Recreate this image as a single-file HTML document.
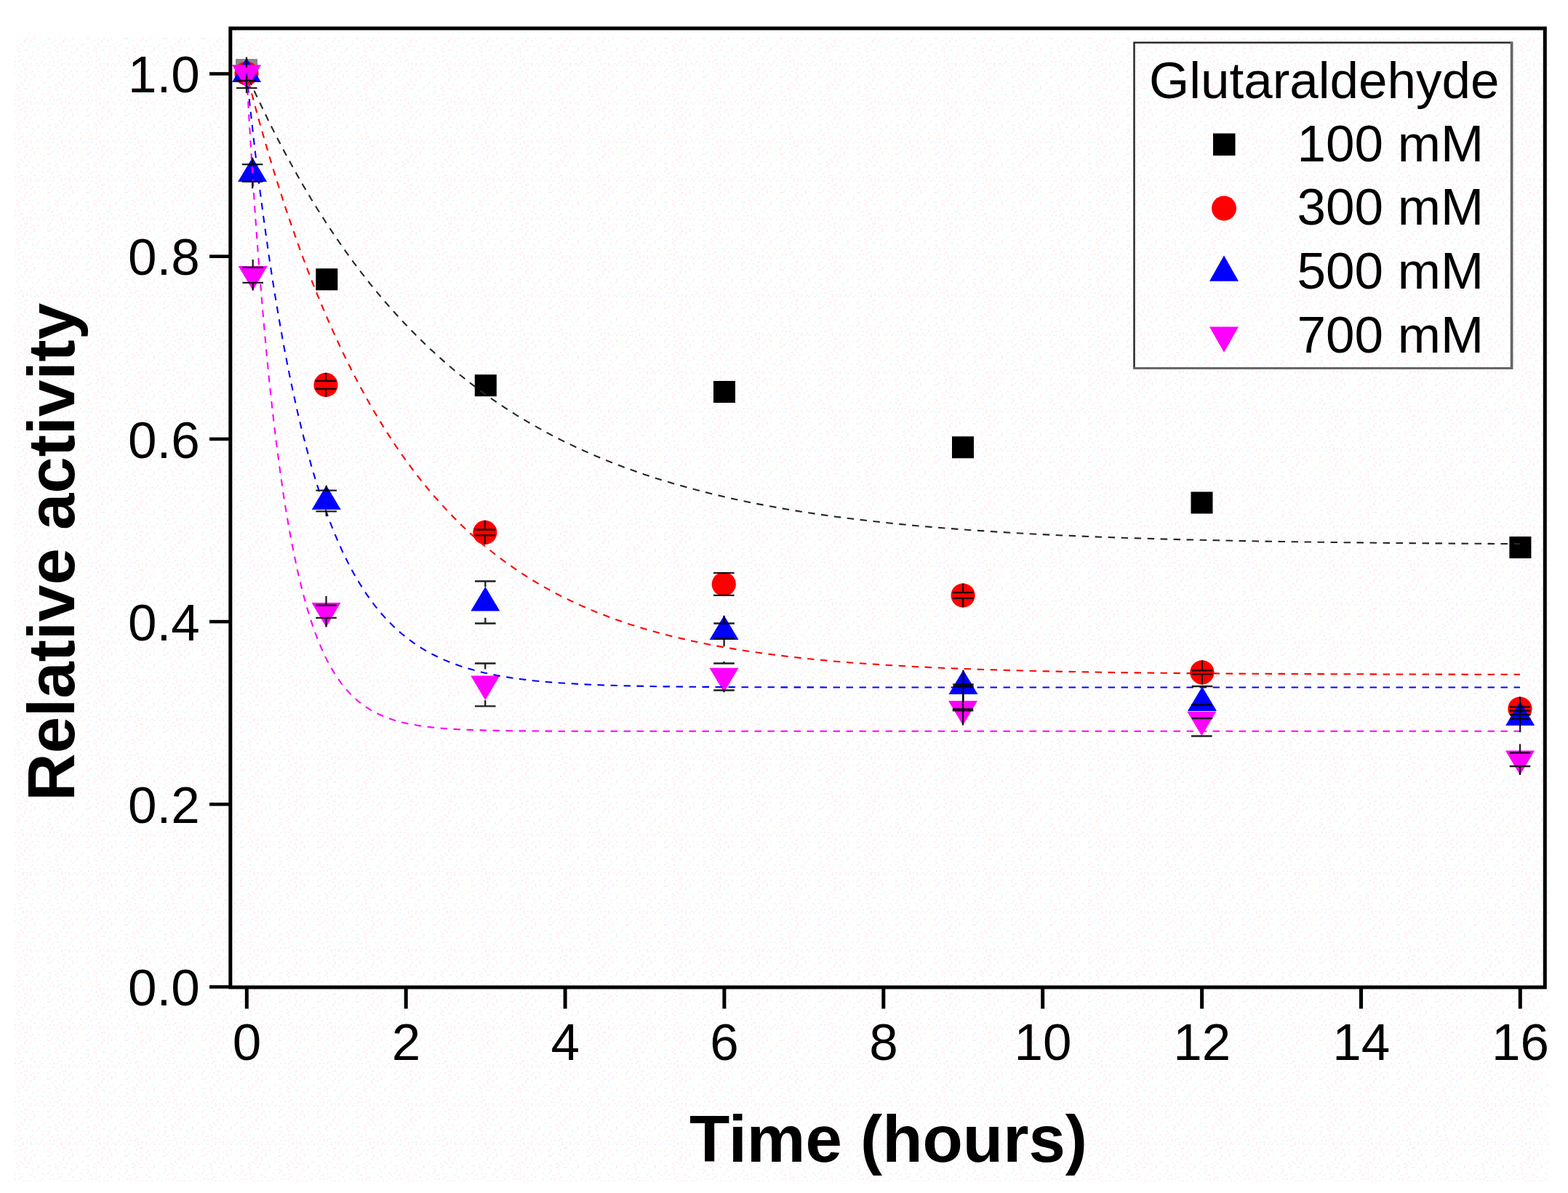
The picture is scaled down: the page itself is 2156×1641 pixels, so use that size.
<!DOCTYPE html><html><head><meta charset="utf-8"><title>Relative activity vs time</title>
<style>html,body{margin:0;padding:0;background:#fff;}svg{display:block;}text{font-family:"Liberation Sans",Arial,sans-serif;}</style></head><body>
<svg width="2156" height="1641" viewBox="0 0 2156 1641">
<rect x="0" y="0" width="2156" height="1641" fill="#fff"/>
<defs><pattern id="nz" x="20" y="52" width="53.00" height="53.00" patternUnits="userSpaceOnUse"><rect x="2.65" y="2.65" width="2.1" height="2.1" fill="#ebfcff"/><rect x="0.00" y="5.30" width="2.1" height="2.1" fill="#f5ffee"/><rect x="2.65" y="10.60" width="2.1" height="2.1" fill="#ffebf2"/><rect x="2.65" y="15.90" width="2.1" height="2.1" fill="#ffebf2"/><rect x="0.00" y="23.85" width="2.1" height="2.1" fill="#f5ffee"/><rect x="0.00" y="26.50" width="2.1" height="2.1" fill="#f5ffee"/><rect x="0.00" y="31.80" width="2.1" height="2.1" fill="#ffebf2"/><rect x="0.00" y="37.10" width="2.1" height="2.1" fill="#ebfcff"/><rect x="2.65" y="45.05" width="2.1" height="2.1" fill="#ebfcff"/><rect x="0.00" y="47.70" width="2.1" height="2.1" fill="#ebfcff"/><rect x="7.95" y="0.00" width="2.1" height="2.1" fill="#ebfcff"/><rect x="7.95" y="7.95" width="2.1" height="2.1" fill="#ffebf2"/><rect x="5.30" y="13.25" width="2.1" height="2.1" fill="#ffebf2"/><rect x="5.30" y="18.55" width="2.1" height="2.1" fill="#ffebf2"/><rect x="5.30" y="23.85" width="2.1" height="2.1" fill="#ffebf2"/><rect x="7.95" y="29.15" width="2.1" height="2.1" fill="#ffebf2"/><rect x="5.30" y="31.80" width="2.1" height="2.1" fill="#ffebf2"/><rect x="5.30" y="39.75" width="2.1" height="2.1" fill="#ffebf2"/><rect x="7.95" y="45.05" width="2.1" height="2.1" fill="#ffebf2"/><rect x="5.30" y="50.35" width="2.1" height="2.1" fill="#ffebf2"/><rect x="13.25" y="2.65" width="2.1" height="2.1" fill="#ffebf2"/><rect x="13.25" y="5.30" width="2.1" height="2.1" fill="#ffebf2"/><rect x="10.60" y="10.60" width="2.1" height="2.1" fill="#ffebf2"/><rect x="13.25" y="15.90" width="2.1" height="2.1" fill="#ebfcff"/><rect x="10.60" y="23.85" width="2.1" height="2.1" fill="#ebfcff"/><rect x="10.60" y="29.15" width="2.1" height="2.1" fill="#ebfcff"/><rect x="10.60" y="34.45" width="2.1" height="2.1" fill="#ffebf2"/><rect x="10.60" y="37.10" width="2.1" height="2.1" fill="#ffebf2"/><rect x="13.25" y="42.40" width="2.1" height="2.1" fill="#ffebf2"/><rect x="13.25" y="47.70" width="2.1" height="2.1" fill="#ffebf2"/><rect x="15.90" y="0.00" width="2.1" height="2.1" fill="#ffebf2"/><rect x="15.90" y="7.95" width="2.1" height="2.1" fill="#f5ffee"/><rect x="18.55" y="10.60" width="2.1" height="2.1" fill="#ffebf2"/><rect x="15.90" y="15.90" width="2.1" height="2.1" fill="#ffebf2"/><rect x="18.55" y="23.85" width="2.1" height="2.1" fill="#ebfcff"/><rect x="15.90" y="29.15" width="2.1" height="2.1" fill="#f5ffee"/><rect x="15.90" y="34.45" width="2.1" height="2.1" fill="#ffebf2"/><rect x="15.90" y="39.75" width="2.1" height="2.1" fill="#f5ffee"/><rect x="15.90" y="42.40" width="2.1" height="2.1" fill="#ffebf2"/><rect x="15.90" y="50.35" width="2.1" height="2.1" fill="#f5ffee"/><rect x="21.20" y="2.65" width="2.1" height="2.1" fill="#ffebf2"/><rect x="21.20" y="5.30" width="2.1" height="2.1" fill="#ebfcff"/><rect x="23.85" y="10.60" width="2.1" height="2.1" fill="#ebfcff"/><rect x="23.85" y="18.55" width="2.1" height="2.1" fill="#ffebf2"/><rect x="23.85" y="23.85" width="2.1" height="2.1" fill="#ebfcff"/><rect x="21.20" y="26.50" width="2.1" height="2.1" fill="#ffebf2"/><rect x="21.20" y="34.45" width="2.1" height="2.1" fill="#ffebf2"/><rect x="21.20" y="37.10" width="2.1" height="2.1" fill="#ffebf2"/><rect x="23.85" y="45.05" width="2.1" height="2.1" fill="#ffebf2"/><rect x="21.20" y="47.70" width="2.1" height="2.1" fill="#ffebf2"/><rect x="26.50" y="0.00" width="2.1" height="2.1" fill="#ffebf2"/><rect x="29.15" y="7.95" width="2.1" height="2.1" fill="#ebfcff"/><rect x="26.50" y="10.60" width="2.1" height="2.1" fill="#f5ffee"/><rect x="29.15" y="18.55" width="2.1" height="2.1" fill="#ebfcff"/><rect x="26.50" y="21.20" width="2.1" height="2.1" fill="#ebfcff"/><rect x="26.50" y="29.15" width="2.1" height="2.1" fill="#ffebf2"/><rect x="29.15" y="34.45" width="2.1" height="2.1" fill="#ffebf2"/><rect x="26.50" y="37.10" width="2.1" height="2.1" fill="#ebfcff"/><rect x="29.15" y="42.40" width="2.1" height="2.1" fill="#f5ffee"/><rect x="26.50" y="50.35" width="2.1" height="2.1" fill="#ffebf2"/><rect x="34.45" y="0.00" width="2.1" height="2.1" fill="#f5ffee"/><rect x="34.45" y="5.30" width="2.1" height="2.1" fill="#f5ffee"/><rect x="31.80" y="13.25" width="2.1" height="2.1" fill="#ffebf2"/><rect x="31.80" y="15.90" width="2.1" height="2.1" fill="#ffebf2"/><rect x="31.80" y="23.85" width="2.1" height="2.1" fill="#f5ffee"/><rect x="34.45" y="29.15" width="2.1" height="2.1" fill="#f5ffee"/><rect x="34.45" y="34.45" width="2.1" height="2.1" fill="#ebfcff"/><rect x="31.80" y="37.10" width="2.1" height="2.1" fill="#ffebf2"/><rect x="31.80" y="45.05" width="2.1" height="2.1" fill="#ffebf2"/><rect x="31.80" y="50.35" width="2.1" height="2.1" fill="#ebfcff"/><rect x="39.75" y="2.65" width="2.1" height="2.1" fill="#f5ffee"/><rect x="39.75" y="7.95" width="2.1" height="2.1" fill="#ffebf2"/><rect x="37.10" y="10.60" width="2.1" height="2.1" fill="#ebfcff"/><rect x="39.75" y="18.55" width="2.1" height="2.1" fill="#ebfcff"/><rect x="37.10" y="23.85" width="2.1" height="2.1" fill="#ffebf2"/><rect x="39.75" y="26.50" width="2.1" height="2.1" fill="#ebfcff"/><rect x="37.10" y="31.80" width="2.1" height="2.1" fill="#ffebf2"/><rect x="39.75" y="37.10" width="2.1" height="2.1" fill="#ffebf2"/><rect x="39.75" y="45.05" width="2.1" height="2.1" fill="#f5ffee"/><rect x="37.10" y="47.70" width="2.1" height="2.1" fill="#f5ffee"/><rect x="45.05" y="0.00" width="2.1" height="2.1" fill="#ffebf2"/><rect x="45.05" y="7.95" width="2.1" height="2.1" fill="#f5ffee"/><rect x="45.05" y="13.25" width="2.1" height="2.1" fill="#ebfcff"/><rect x="45.05" y="18.55" width="2.1" height="2.1" fill="#ebfcff"/><rect x="45.05" y="23.85" width="2.1" height="2.1" fill="#ffebf2"/><rect x="42.40" y="29.15" width="2.1" height="2.1" fill="#f5ffee"/><rect x="42.40" y="34.45" width="2.1" height="2.1" fill="#ebfcff"/><rect x="45.05" y="37.10" width="2.1" height="2.1" fill="#ebfcff"/><rect x="45.05" y="45.05" width="2.1" height="2.1" fill="#ffebf2"/><rect x="45.05" y="47.70" width="2.1" height="2.1" fill="#ebfcff"/><rect x="47.70" y="0.00" width="2.1" height="2.1" fill="#ffebf2"/><rect x="50.35" y="5.30" width="2.1" height="2.1" fill="#ebfcff"/><rect x="47.70" y="13.25" width="2.1" height="2.1" fill="#ffebf2"/><rect x="47.70" y="18.55" width="2.1" height="2.1" fill="#ebfcff"/><rect x="47.70" y="21.20" width="2.1" height="2.1" fill="#ffebf2"/><rect x="50.35" y="26.50" width="2.1" height="2.1" fill="#ffebf2"/><rect x="47.70" y="31.80" width="2.1" height="2.1" fill="#ffebf2"/><rect x="50.35" y="37.10" width="2.1" height="2.1" fill="#ebfcff"/><rect x="47.70" y="42.40" width="2.1" height="2.1" fill="#ffebf2"/><rect x="50.35" y="50.35" width="2.1" height="2.1" fill="#ffebf2"/></pattern></defs>
<rect x="20" y="52" width="2111" height="1573" fill="url(#nz)"/>
<g id="markers">
<rect x="324.0" y="81.0" width="30" height="30" fill="#8a8a8a"/>
<rect x="434.3" y="369.3" width="30" height="30" fill="#000"/>
<rect x="652.8" y="515.2" width="30" height="30" fill="#000"/>
<rect x="981.0" y="524.0" width="30" height="30" fill="#000"/>
<rect x="1309.0" y="600.3" width="30" height="30" fill="#000"/>
<rect x="1637.5" y="676.5" width="30" height="30" fill="#000"/>
<rect x="2075.4" y="738.0" width="30" height="30" fill="#000"/>
<circle cx="339" cy="101" r="16.6" fill="#ff0000"/>
<circle cx="448" cy="529.4" r="16.6" fill="#ff0000"/>
<circle cx="666.8" cy="732.4" r="16.6" fill="#ff0000"/>
<circle cx="995.3" cy="803.5" r="16.6" fill="#ff0000"/>
<circle cx="1324.1" cy="819" r="16.6" fill="#ff0000"/>
<circle cx="1652.9" cy="924.8" r="16.6" fill="#ff0000"/>
<circle cx="2089.9" cy="975" r="16.6" fill="#ff0000"/>
<polygon points="319.0,113.0 359.0,113.0 339.0,79.5" fill="#0000ff"/>
<polygon points="327.1,250.0 367.1,250.0 347.1,216.5" fill="#0000ff"/>
<polygon points="428.7,701.0 468.7,701.0 448.7,667.5" fill="#0000ff"/>
<polygon points="647.3,840.5 687.3,840.5 667.3,807.0" fill="#0000ff"/>
<polygon points="975.6,880.0 1015.6,880.0 995.6,846.5" fill="#0000ff"/>
<polygon points="1304.5,955.0 1344.5,955.0 1324.5,921.5" fill="#0000ff"/>
<polygon points="1633.0,978.0 1673.0,978.0 1653.0,944.5" fill="#0000ff"/>
<polygon points="2070.2,998.0 2110.2,998.0 2090.2,964.5" fill="#0000ff"/>
<polygon points="319.0,89.2 359.0,89.2 339.0,122.7" fill="#ff00ff"/>
<polygon points="327.7,366.0 367.7,366.0 347.7,399.5" fill="#ff00ff"/>
<polygon points="428.5,828.9 468.5,828.9 448.5,862.4" fill="#ff00ff"/>
<polygon points="647.2,929.6 687.2,929.6 667.2,963.1" fill="#ff00ff"/>
<polygon points="975.5,918.7 1015.5,918.7 995.5,952.2" fill="#ff00ff"/>
<polygon points="1304.0,964.0 1344.0,964.0 1324.0,997.5" fill="#ff00ff"/>
<polygon points="1632.3,978.7 1672.3,978.7 1652.3,1012.2" fill="#ff00ff"/>
<polygon points="2070.0,1032.5 2110.0,1032.5 2090.0,1066.0" fill="#ff00ff"/>
</g>
<g fill="none" stroke-width="2.1" stroke-dasharray="9.5 8.5">
<polyline stroke="#262626" stroke-dashoffset="10.33" points="339.0,101.5 340.1,104.0 341.2,106.4 342.3,108.8 343.4,111.3 344.5,113.7 345.6,116.1 346.7,118.5 347.8,120.9 348.8,123.3 349.9,125.7 351.0,128.0 352.1,130.4 353.2,132.7 354.3,135.1 355.4,137.4 356.5,139.7 357.6,142.0 358.7,144.3 359.8,146.6 360.9,148.9 362.0,151.2 363.1,153.5 364.2,155.7 365.3,158.0 366.4,160.2 367.5,162.5 368.5,164.7 369.6,166.9 370.7,169.1 371.8,171.3 372.9,173.5 374.0,175.7 375.1,177.9 376.2,180.1 377.3,182.2 378.4,184.4 379.5,186.5 380.6,188.6 381.7,190.8 382.8,192.9 383.9,195.0 385.0,197.1 386.1,199.2 387.2,201.3 388.2,203.4 389.3,205.4 390.4,207.5 391.5,209.6 392.6,211.6 393.7,213.6 394.8,215.7 395.9,217.7 397.0,219.7 398.1,221.7 399.2,223.7 400.3,225.7 401.4,227.7 402.5,229.7 403.6,231.7 404.7,233.6 405.8,235.6 406.9,237.5 407.9,239.5 409.0,241.4 410.1,243.3 411.2,245.3 412.3,247.2 413.4,249.1 414.5,251.0 415.6,252.9 416.7,254.8 417.8,256.6 418.9,258.5 420.0,260.4 421.1,262.2 422.2,264.1 423.3,265.9 424.4,267.7 425.5,269.6 426.6,271.4 427.6,273.2 428.7,275.0 429.8,276.8 430.9,278.6 432.0,280.4 433.1,282.2 434.2,283.9 435.3,285.7 436.4,287.5 437.5,289.2 438.6,291.0 439.7,292.7 440.8,294.4 441.9,296.2 443.0,297.9 444.1,299.6 445.2,301.3 446.3,303.0 447.3,304.7 448.4,306.4 453.9,314.7 459.4,322.9 464.9,330.9 470.3,338.8 475.8,346.6 481.3,354.1 486.7,361.6 492.2,368.9 497.7,376.1 503.2,383.1 508.6,390.0 514.1,396.7 519.6,403.4 525.0,409.9 530.5,416.3 536.0,422.6 541.5,428.7 546.9,434.8 552.4,440.7 557.9,446.5 563.4,452.2 568.8,457.8 574.3,463.3 579.8,468.7 585.2,474.0 590.7,479.2 596.2,484.2 601.7,489.2 607.1,494.1 612.6,499.0 618.1,503.7 623.5,508.3 629.0,512.8 634.5,517.3 640.0,521.7 645.4,526.0 650.9,530.2 656.4,534.3 661.8,538.3 667.3,542.3 672.8,546.2 678.3,550.1 683.7,553.8 689.2,557.5 694.7,561.1 700.2,564.7 705.6,568.1 711.1,571.6 716.6,574.9 722.0,578.2 727.5,581.4 733.0,584.6 738.5,587.7 743.9,590.7 749.4,593.7 754.9,596.7 760.3,599.5 765.8,602.4 771.3,605.1 776.8,607.8 798.6,618.2 820.5,627.8 842.4,636.7 864.3,645.0 886.2,652.7 908.1,659.8 930.0,666.3 951.9,672.4 973.8,678.1 995.6,683.3 1017.5,688.2 1039.4,692.7 1061.3,696.8 1083.2,700.7 1105.1,704.3 1127.0,707.6 1148.9,710.7 1170.7,713.5 1192.6,716.1 1214.5,718.6 1236.4,720.9 1258.3,723.0 1280.2,724.9 1302.1,726.7 1324.0,728.4 1345.8,729.9 1367.7,731.4 1389.6,732.7 1411.5,734.0 1433.4,735.1 1455.3,736.2 1477.2,737.1 1499.1,738.1 1521.0,738.9 1542.8,739.7 1564.7,740.4 1586.6,741.1 1608.5,741.7 1630.4,742.3 1652.3,742.8 1674.2,743.3 1696.1,743.8 1717.9,744.2 1739.8,744.6 1761.7,745.0 1783.6,745.3 1805.5,745.6 1827.4,745.9 1849.3,746.2 1871.2,746.4 1893.0,746.7 1914.9,746.9 1936.8,747.1 1958.7,747.3 1980.6,747.4 2002.5,747.6 2024.4,747.7 2046.3,747.9 2068.2,748.0 2090.0,748.1"/>
<polyline stroke="#ff0000" stroke-dashoffset="8.02" points="339.0,101.5 340.1,105.7 341.2,110.0 342.3,114.2 343.4,118.4 344.5,122.5 345.6,126.6 346.7,130.8 347.8,134.9 348.8,138.9 349.9,143.0 351.0,147.0 352.1,151.0 353.2,155.0 354.3,159.0 355.4,162.9 356.5,166.9 357.6,170.8 358.7,174.7 359.8,178.5 360.9,182.4 362.0,186.2 363.1,190.0 364.2,193.8 365.3,197.6 366.4,201.3 367.5,205.1 368.5,208.8 369.6,212.5 370.7,216.2 371.8,219.8 372.9,223.4 374.0,227.1 375.1,230.7 376.2,234.2 377.3,237.8 378.4,241.4 379.5,244.9 380.6,248.4 381.7,251.9 382.8,255.4 383.9,258.8 385.0,262.2 386.1,265.7 387.2,269.1 388.2,272.5 389.3,275.8 390.4,279.2 391.5,282.5 392.6,285.8 393.7,289.1 394.8,292.4 395.9,295.7 397.0,298.9 398.1,302.1 399.2,305.4 400.3,308.6 401.4,311.7 402.5,314.9 403.6,318.1 404.7,321.2 405.8,324.3 406.9,327.4 407.9,330.5 409.0,333.6 410.1,336.6 411.2,339.6 412.3,342.7 413.4,345.7 414.5,348.7 415.6,351.6 416.7,354.6 417.8,357.5 418.9,360.5 420.0,363.4 421.1,366.3 422.2,369.2 423.3,372.0 424.4,374.9 425.5,377.7 426.6,380.6 427.6,383.4 428.7,386.2 429.8,389.0 430.9,391.7 432.0,394.5 433.1,397.2 434.2,400.0 435.3,402.7 436.4,405.4 437.5,408.0 438.6,410.7 439.7,413.4 440.8,416.0 441.9,418.6 443.0,421.3 444.1,423.9 445.2,426.5 446.3,429.0 447.3,431.6 448.4,434.1 453.9,446.7 459.4,458.9 464.9,470.9 470.3,482.5 475.8,493.8 481.3,504.8 486.7,515.6 492.2,526.1 497.7,536.3 503.2,546.2 508.6,556.0 514.1,565.4 519.6,574.6 525.0,583.6 530.5,592.4 536.0,600.9 541.5,609.2 546.9,617.3 552.4,625.2 557.9,632.9 563.4,640.4 568.8,647.7 574.3,654.8 579.8,661.8 585.2,668.5 590.7,675.1 596.2,681.6 601.7,687.8 607.1,693.9 612.6,699.9 618.1,705.7 623.5,711.3 629.0,716.8 634.5,722.2 640.0,727.4 645.4,732.5 650.9,737.5 656.4,742.3 661.8,747.1 667.3,751.7 672.8,756.1 678.3,760.5 683.7,764.8 689.2,768.9 694.7,773.0 700.2,776.9 705.6,780.7 711.1,784.5 716.6,788.1 722.0,791.7 727.5,795.1 733.0,798.5 738.5,801.8 743.9,805.0 749.4,808.1 754.9,811.2 760.3,814.2 765.8,817.0 771.3,819.9 776.8,822.6 798.6,832.9 820.5,842.2 842.4,850.6 864.3,858.2 886.2,865.0 908.1,871.2 930.0,876.7 951.9,881.7 973.8,886.3 995.6,890.3 1017.5,894.0 1039.4,897.3 1061.3,900.3 1083.2,903.0 1105.1,905.5 1127.0,907.7 1148.9,909.7 1170.7,911.5 1192.6,913.1 1214.5,914.5 1236.4,915.8 1258.3,917.0 1280.2,918.1 1302.1,919.1 1324.0,919.9 1345.8,920.7 1367.7,921.4 1389.6,922.1 1411.5,922.6 1433.4,923.2 1455.3,923.6 1477.2,924.0 1499.1,924.4 1521.0,924.8 1542.8,925.1 1564.7,925.4 1586.6,925.6 1608.5,925.8 1630.4,926.1 1652.3,926.2 1674.2,926.4 1696.1,926.6 1717.9,926.7 1739.8,926.8 1761.7,926.9 1783.6,927.0 1805.5,927.1 1827.4,927.2 1849.3,927.3 1871.2,927.3 1893.0,927.4 1914.9,927.5 1936.8,927.5 1958.7,927.5 1980.6,927.6 2002.5,927.6 2024.4,927.7 2046.3,927.7 2068.2,927.7 2090.0,927.7"/>
<polyline stroke="#0000ff" stroke-dashoffset="1.23" points="339.0,101.5 340.1,112.0 341.2,122.3 342.3,132.6 343.4,142.7 344.5,152.6 345.6,162.5 346.7,172.2 347.8,181.8 348.8,191.3 349.9,200.7 351.0,209.9 352.1,219.1 353.2,228.1 354.3,237.0 355.4,245.8 356.5,254.5 357.6,263.1 358.7,271.6 359.8,279.9 360.9,288.2 362.0,296.4 363.1,304.4 364.2,312.4 365.3,320.3 366.4,328.0 367.5,335.7 368.5,343.3 369.6,350.8 370.7,358.1 371.8,365.4 372.9,372.6 374.0,379.8 375.1,386.8 376.2,393.7 377.3,400.6 378.4,407.4 379.5,414.0 380.6,420.6 381.7,427.2 382.8,433.6 383.9,440.0 385.0,446.2 386.1,452.4 387.2,458.6 388.2,464.6 389.3,470.6 390.4,476.5 391.5,482.3 392.6,488.1 393.7,493.8 394.8,499.4 395.9,504.9 397.0,510.4 398.1,515.8 399.2,521.1 400.3,526.4 401.4,531.6 402.5,536.7 403.6,541.8 404.7,546.8 405.8,551.8 406.9,556.7 407.9,561.5 409.0,566.3 410.1,571.0 411.2,575.6 412.3,580.2 413.4,584.8 414.5,589.3 415.6,593.7 416.7,598.1 417.8,602.4 418.9,606.6 420.0,610.8 421.1,615.0 422.2,619.1 423.3,623.2 424.4,627.2 425.5,631.1 426.6,635.0 427.6,638.9 428.7,642.7 429.8,646.5 430.9,650.2 432.0,653.8 433.1,657.5 434.2,661.0 435.3,664.6 436.4,668.1 437.5,671.5 438.6,674.9 439.7,678.3 440.8,681.6 441.9,684.9 443.0,688.1 444.1,691.3 445.2,694.5 446.3,697.6 447.3,700.7 448.4,703.7 453.9,718.4 459.4,732.1 464.9,745.1 470.3,757.2 475.8,768.6 481.3,779.3 486.7,789.4 492.2,798.9 497.7,807.7 503.2,816.1 508.6,823.9 514.1,831.3 519.6,838.2 525.0,844.7 530.5,850.8 536.0,856.6 541.5,862.0 546.9,867.0 552.4,871.8 557.9,876.2 563.4,880.4 568.8,884.4 574.3,888.1 579.8,891.6 585.2,894.8 590.7,897.9 596.2,900.8 601.7,903.5 607.1,906.1 612.6,908.4 618.1,910.7 623.5,912.8 629.0,914.8 634.5,916.7 640.0,918.4 645.4,920.0 650.9,921.6 656.4,923.0 661.8,924.4 667.3,925.7 672.8,926.9 678.3,928.0 683.7,929.1 689.2,930.1 694.7,931.0 700.2,931.9 705.6,932.7 711.1,933.5 716.6,934.2 722.0,934.9 727.5,935.6 733.0,936.2 738.5,936.7 743.9,937.3 749.4,937.8 754.9,938.2 760.3,938.7 765.8,939.1 771.3,939.5 776.8,939.8 798.6,941.1 820.5,942.1 842.4,942.8 864.3,943.4 886.2,943.9 908.1,944.3 930.0,944.5 951.9,944.8 973.8,944.9 995.6,945.1 1017.5,945.2 1039.4,945.2 1061.3,945.3 1083.2,945.4 1105.1,945.4 1127.0,945.4 1148.9,945.5 1170.7,945.5 1192.6,945.5 1214.5,945.5 1236.4,945.5 1258.3,945.5 1280.2,945.5 1302.1,945.5 1324.0,945.5 1345.8,945.5 1367.7,945.5 1389.6,945.5 1411.5,945.5 1433.4,945.5 1455.3,945.5 1477.2,945.5 1499.1,945.5 1521.0,945.5 1542.8,945.5 1564.7,945.5 1586.6,945.5 1608.5,945.5 1630.4,945.5 1652.3,945.5 1674.2,945.5 1696.1,945.5 1717.9,945.5 1739.8,945.5 1761.7,945.5 1783.6,945.5 1805.5,945.5 1827.4,945.5 1849.3,945.5 1871.2,945.5 1893.0,945.5 1914.9,945.5 1936.8,945.5 1958.7,945.5 1980.6,945.5 2002.5,945.5 2024.4,945.5 2046.3,945.5 2068.2,945.5 2090.0,945.5"/>
<polyline stroke="#ff00ff" stroke-dashoffset="16.06" points="339.0,101.5 340.1,121.2 341.2,140.4 342.3,159.3 343.4,177.7 344.5,195.7 345.6,213.3 346.7,230.6 347.8,247.4 348.8,263.9 349.9,280.1 351.0,295.9 352.1,311.3 353.2,326.4 354.3,341.2 355.4,355.7 356.5,369.8 357.6,383.7 358.7,397.2 359.8,410.4 360.9,423.4 362.0,436.1 363.1,448.5 364.2,460.6 365.3,472.5 366.4,484.1 367.5,495.4 368.5,506.5 369.6,517.4 370.7,528.0 371.8,538.4 372.9,548.6 374.0,558.5 375.1,568.3 376.2,577.8 377.3,587.1 378.4,596.2 379.5,605.1 380.6,613.9 381.7,622.4 382.8,630.7 383.9,638.9 385.0,646.9 386.1,654.7 387.2,662.3 388.2,669.8 389.3,677.1 390.4,684.3 391.5,691.3 392.6,698.1 393.7,704.8 394.8,711.3 395.9,717.8 397.0,724.0 398.1,730.2 399.2,736.2 400.3,742.0 401.4,747.8 402.5,753.4 403.6,758.9 404.7,764.2 405.8,769.5 406.9,774.6 407.9,779.7 409.0,784.6 410.1,789.4 411.2,794.1 412.3,798.7 413.4,803.2 414.5,807.6 415.6,812.0 416.7,816.2 417.8,820.3 418.9,824.3 420.0,828.3 421.1,832.1 422.2,835.9 423.3,839.6 424.4,843.2 425.5,846.8 426.6,850.2 427.6,853.6 428.7,856.9 429.8,860.2 430.9,863.3 432.0,866.4 433.1,869.5 434.2,872.4 435.3,875.3 436.4,878.2 437.5,881.0 438.6,883.7 439.7,886.3 440.8,888.9 441.9,891.5 443.0,894.0 444.1,896.4 445.2,898.8 446.3,901.1 447.3,903.4 448.4,905.6 453.9,916.1 459.4,925.4 464.9,933.8 470.3,941.3 475.8,948.0 481.3,954.0 486.7,959.4 492.2,964.3 497.7,968.6 503.2,972.5 508.6,975.9 514.1,979.1 519.6,981.8 525.0,984.3 530.5,986.6 536.0,988.6 541.5,990.4 546.9,992.0 552.4,993.4 557.9,994.7 563.4,995.9 568.8,996.9 574.3,997.8 579.8,998.7 585.2,999.4 590.7,1000.1 596.2,1000.7 601.7,1001.2 607.1,1001.7 612.6,1002.1 618.1,1002.5 623.5,1002.9 629.0,1003.2 634.5,1003.4 640.0,1003.7 645.4,1003.9 650.9,1004.1 656.4,1004.3 661.8,1004.4 667.3,1004.6 672.8,1004.7 678.3,1004.8 683.7,1004.9 689.2,1005.0 694.7,1005.1 700.2,1005.2 705.6,1005.3 711.1,1005.3 716.6,1005.4 722.0,1005.4 727.5,1005.5 733.0,1005.5 738.5,1005.5 743.9,1005.6 749.4,1005.6 754.9,1005.6 760.3,1005.6 765.8,1005.7 771.3,1005.7 776.8,1005.7 798.6,1005.7 820.5,1005.8 842.4,1005.8 864.3,1005.8 886.2,1005.8 908.1,1005.8 930.0,1005.8 951.9,1005.8 973.8,1005.8 995.6,1005.8 1017.5,1005.8 1039.4,1005.8 1061.3,1005.8 1083.2,1005.8 1105.1,1005.8 1127.0,1005.8 1148.9,1005.8 1170.7,1005.8 1192.6,1005.8 1214.5,1005.8 1236.4,1005.8 1258.3,1005.8 1280.2,1005.8 1302.1,1005.8 1324.0,1005.8 1345.8,1005.8 1367.7,1005.8 1389.6,1005.8 1411.5,1005.8 1433.4,1005.8 1455.3,1005.8 1477.2,1005.8 1499.1,1005.8 1521.0,1005.8 1542.8,1005.8 1564.7,1005.8 1586.6,1005.8 1608.5,1005.8 1630.4,1005.8 1652.3,1005.8 1674.2,1005.8 1696.1,1005.8 1717.9,1005.8 1739.8,1005.8 1761.7,1005.8 1783.6,1005.8 1805.5,1005.8 1827.4,1005.8 1849.3,1005.8 1871.2,1005.8 1893.0,1005.8 1914.9,1005.8 1936.8,1005.8 1958.7,1005.8 1980.6,1005.8 2002.5,1005.8 2024.4,1005.8 2046.3,1005.8 2068.2,1005.8 2090.0,1005.8"/>
</g>
<g stroke="#000" stroke-width="2.3" fill="none" stroke-opacity="0.88">
<path d="M448,512.8V524.0M448,534.8V546.0M433.7,524.0h28.6M433.7,534.8h28.6"/>
<path d="M666.8,715.8V728.5M666.8,736.3V749.0M652.5,728.5h28.6M652.5,736.3h28.6"/>
<path d="M995.3,786.9V788.1M995.3,818.9V820.1M981.0,788.1h28.6M981.0,818.9h28.6"/>
<path d="M1324.1,802.4V815.1M1324.1,822.9V835.6M1309.8,815.1h28.6M1309.8,822.9h28.6"/>
<path d="M1652.9,908.2V922.3M1652.9,927.3V941.4M1638.6,922.3h28.6M1638.6,927.3h28.6"/>
<path d="M2089.9,958.4V972.4M2089.9,977.6V991.6M2075.6,972.4h28.6M2075.6,977.6h28.6"/>
<path d="M347.1,216.7V226.2M347.1,249.8V259.3M332.8,226.2h28.6M332.8,249.8h28.6"/>
<path d="M448.7,667.7V674.6M448.7,703.4V710.3M434.4,674.6h28.6M434.4,703.4h28.6"/>
<path d="M667.3,807.2V799.5M667.3,857.5V849.8M653.0,799.5h28.6M653.0,857.5h28.6"/>
<path d="M995.6,846.7V857.5M995.6,878.5V889.3M981.3,857.5h28.6M981.3,878.5h28.6"/>
<path d="M1324.5,921.7V941.5M1324.5,944.5V964.3M1310.2,941.5h28.6M1310.2,944.5h28.6"/>
<path d="M1653,944.7V944.0M1653,988.0V987.3M1638.7,944.0h28.6M1638.7,988.0h28.6"/>
<path d="M2090.2,964.7V983.2M2090.2,988.8V1007.3M2075.9,983.2h28.6M2075.9,988.8h28.6"/>
<path d="M347.7,357.0V367.8M347.7,388.8V399.6M333.4,367.8h28.6M333.4,388.8h28.6"/>
<path d="M448.5,819.9V832.6M448.5,849.9V862.5M434.2,832.6h28.6M434.2,849.9h28.6"/>
<path d="M667.2,920.6V912.5M667.2,971.3V963.2M652.9,912.5h28.6M652.9,971.3h28.6"/>
<path d="M995.5,909.7V912.5M995.5,949.5V952.3M981.2,912.5h28.6M981.2,949.5h28.6"/>
<path d="M1324,955.0V975.3M1324,977.3V997.6M1309.7,975.3h28.6M1309.7,977.3h28.6"/>
<path d="M1652.3,969.7V969.5M1652.3,1012.5V1012.3M1638.0,969.5h28.6M1638.0,1012.5h28.6"/>
<path d="M2090,1023.5V1035.6M2090,1054.0V1066.1M2075.7,1035.6h28.6M2075.7,1054.0h28.6"/>
<path d="M339,78.5V93M339,104V128M324.8,111h27M325,121.2h28.5"/>
</g>
<g stroke="#000" fill="none">
<rect x="316.8" y="39" width="1807.5" height="1319.0" stroke-width="5"/>
<line x1="288" y1="1357.5" x2="316" y2="1357.5" stroke-width="4.6"/>
<line x1="288" y1="1106.3" x2="316" y2="1106.3" stroke-width="4.6"/>
<line x1="288" y1="855.1" x2="316" y2="855.1" stroke-width="4.6"/>
<line x1="288" y1="603.9" x2="316" y2="603.9" stroke-width="4.6"/>
<line x1="288" y1="352.7" x2="316" y2="352.7" stroke-width="4.6"/>
<line x1="288" y1="101.5" x2="316" y2="101.5" stroke-width="4.6"/>
<line x1="339.3" y1="1359" x2="339.3" y2="1387.5" stroke-width="5"/>
<line x1="558.2" y1="1359" x2="558.2" y2="1387.5" stroke-width="5"/>
<line x1="777.1" y1="1359" x2="777.1" y2="1387.5" stroke-width="5"/>
<line x1="995.9" y1="1359" x2="995.9" y2="1387.5" stroke-width="5"/>
<line x1="1214.8" y1="1359" x2="1214.8" y2="1387.5" stroke-width="5"/>
<line x1="1433.7" y1="1359" x2="1433.7" y2="1387.5" stroke-width="5"/>
<line x1="1652.6" y1="1359" x2="1652.6" y2="1387.5" stroke-width="5"/>
<line x1="1871.5" y1="1359" x2="1871.5" y2="1387.5" stroke-width="5"/>
<line x1="2090.3" y1="1359" x2="2090.3" y2="1387.5" stroke-width="5"/>
</g>
<g font-size="71" fill="#000">
<text x="274.7" y="1383.2" text-anchor="end">0.0</text>
<text x="274.7" y="1132.0" text-anchor="end">0.2</text>
<text x="274.7" y="880.8" text-anchor="end">0.4</text>
<text x="274.7" y="629.6" text-anchor="end">0.6</text>
<text x="274.7" y="378.4" text-anchor="end">0.8</text>
<text x="274.7" y="127.2" text-anchor="end">1.0</text>
<text x="339.5" y="1458" text-anchor="middle">0</text>
<text x="558.4" y="1458" text-anchor="middle">2</text>
<text x="777.3" y="1458" text-anchor="middle">4</text>
<text x="996.1" y="1458" text-anchor="middle">6</text>
<text x="1215.0" y="1458" text-anchor="middle">8</text>
<text x="1433.9" y="1458" text-anchor="middle">10</text>
<text x="1652.8" y="1458" text-anchor="middle">12</text>
<text x="1871.7" y="1458" text-anchor="middle">14</text>
<text x="2090.5" y="1458" text-anchor="middle">16</text>
</g>
<text x="948" y="1598.3" font-size="90.6" font-weight="bold">Time (hours)</text>
<text transform="translate(101.6,1101.7) rotate(-90)" x="0" y="0" font-size="90.6" font-weight="bold">Relative activity</text>
<g>
<rect x="1559.5" y="58.6" width="519.5" height="448" fill="none" stroke="#222" stroke-width="2.4"/>
<line x1="2078.5" y1="58" x2="2078.5" y2="508" stroke="#666" stroke-width="3.5"/>
<line x1="1559" y1="506.5" x2="2080" y2="506.5" stroke="#666" stroke-width="3"/>
<text x="1580" y="135" font-size="71">Glutaraldehyde</text>
<text x="1783.6" y="221.5" font-size="71">100 mM</text>
<text x="1783.6" y="309.2" font-size="71">300 mM</text>
<text x="1783.6" y="397.0" font-size="71">500 mM</text>
<text x="1783.6" y="484.8" font-size="71">700 mM</text>
<rect x="1668" y="183.5" width="30.5" height="30.5" fill="#000"/>
<circle cx="1683" cy="286.5" r="17" fill="#ff0000"/>
<polygon points="1663,386.7 1703,386.7 1683,351.6" fill="#0000ff"/>
<polygon points="1663,449.6 1703,449.6 1683,484.7" fill="#ff00ff"/>
</g>
</svg></body></html>
